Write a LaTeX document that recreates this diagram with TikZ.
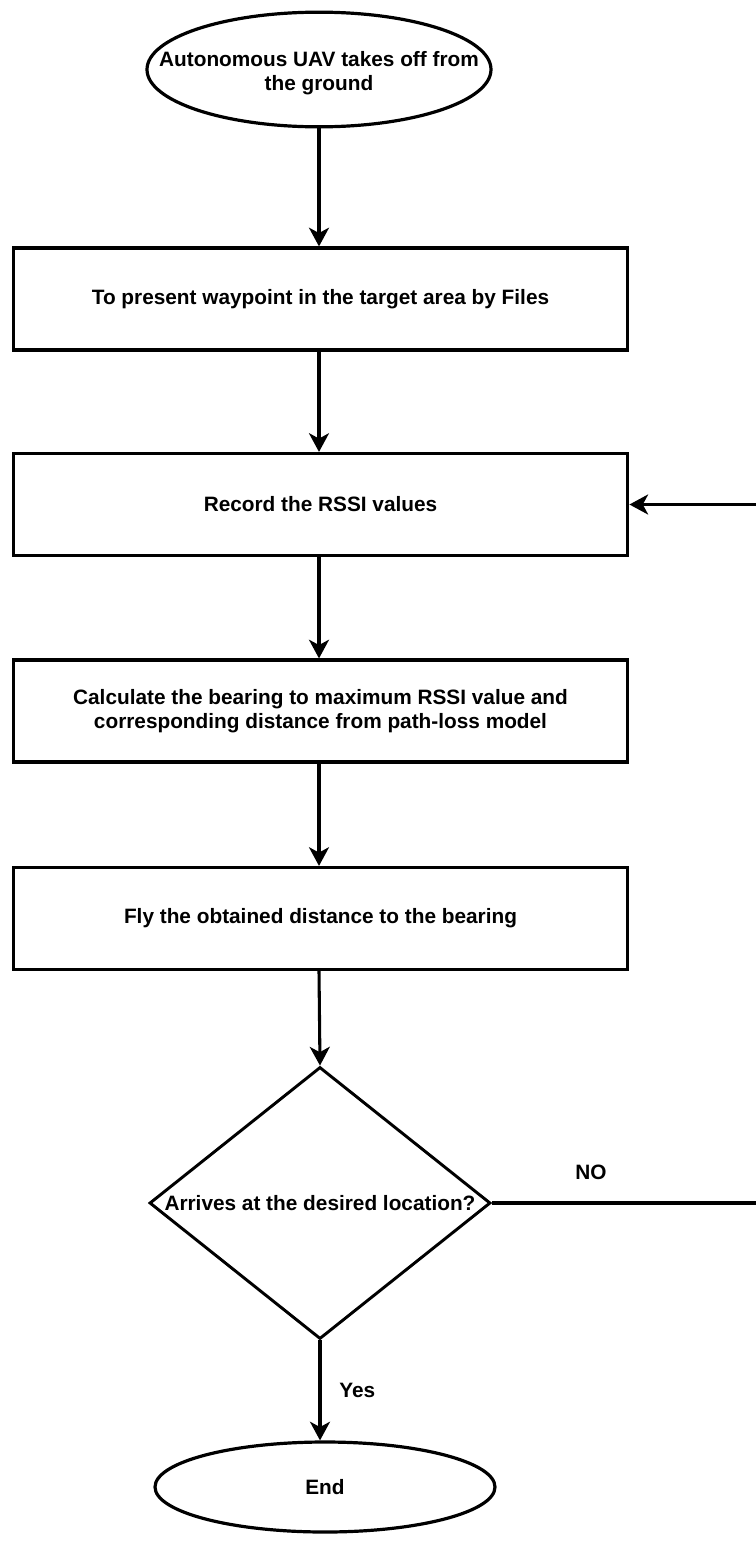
\documentclass[tikz,border=0pt]{standalone}
\usepackage{fontspec}
\setmainfont{Liberation Sans}
\usepackage{tikz}
\usetikzlibrary{arrows.meta,shapes.geometric,positioning}

\begin{document}
\begin{tikzpicture}[x=0.75pt,y=-0.75pt,
	every node/.style={font=\bfseries\fontsize{15.6}{17.8}\selectfont, align=center},
	terminal/.style={ellipse, draw, line width=2.4pt, inner sep=0pt},
	process/.style={rectangle, draw, line width=2.4pt, minimum width=461pt, minimum height=76.5pt},
	decision/.style={diamond, draw, line width=2.2pt, inner sep=0pt, minimum width=255.75pt, minimum height=204pt},
	flow/.style={line width=2.3pt, -{Stealth[length=14pt,width=15pt,inset=4pt]}}]
	\useasboundingbox (0,0) rectangle (756,1542);
	
	\node[terminal, minimum width=258pt, minimum height=86pt] (start) at (319,69.5) {};
	\node (starttext) at (319,73) {Autonomous UAV takes off from\\the ground};
	\node[process] (wpt) at (320.5,299) {To present waypoint in the target area by Files};
	\node[process] (rssi) at (320.5,504.5) {Record the RSSI values};
	\node[process] (calc) at (320.5,711) {Calculate the bearing to maximum RSSI value and\\corresponding distance from path-loss model};
	\node[process] (fly) at (320.5,918.5) {Fly the obtained distance to the bearing};
	\node[decision] (dec) at (320,1203) {};
	\node (dectext) at (dec) {Arrives at the desired location?};
	\node[terminal, minimum width=255pt, minimum height=67.5pt] (fin) at (325,1487) {End};
	
	\draw[flow] (start.south) -- (start.south |- wpt.north);
	\draw[flow] (wpt.south -| start.south) -- (rssi.north -| start.south);
	\draw[flow] (rssi.south -| start.south) -- (calc.north -| start.south);
	\draw[flow] (calc.south -| start.south) -- (fly.north -| start.south);
	\draw[flow] (fly.south -| start.south) -- (dec.north);
	\draw[flow] (dec.south) -- (dec.south |- fin.north) node[midway, right=10pt] (yes) {Yes};
	
	% loop back when not arrived
	\coordinate (corner) at (764,1203);
	\draw[flow] (dec.east) -- (corner) -- (corner |- rssi.east) -- (rssi.east);
	\node (no) at (591,1172) {NO};
\end{tikzpicture}
\end{document}
